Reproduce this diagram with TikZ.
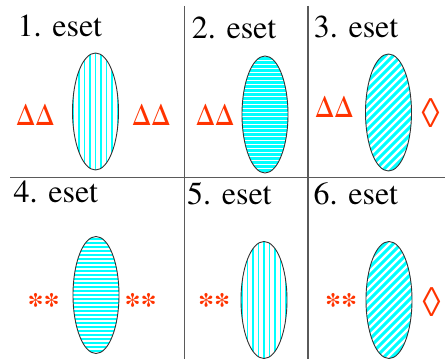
\documentclass[tikz,border=0pt]{standalone}
\usepackage{fontspec}
\setmainfont{TeX Gyre Termes}
\newfontfamily\timesf{TeX Gyre Termes}
\usetikzlibrary{shapes.geometric}
\definecolor{markred}{RGB}{255,51,0}
\definecolor{gridgray}{RGB}{90,90,90}
\definecolor{hatch}{RGB}{0,255,255}
\tikzset{
  lens/.style={ellipse, draw=black!80, line width=0.9pt, fill=white,
    minimum width=46pt, minimum height=117pt, inner sep=0pt},
  vstripes/.style={path picture={
    \foreach \i in {-27.5,-22,...,28}
      \draw[hatch, line width=1.2pt]
        ([xshift=\i pt]path picture bounding box.north) --
        ([xshift=\i pt]path picture bounding box.south);}},
  hstripes/.style={path picture={
    \foreach \i in {-60,-56,...,60}
      \draw[hatch, line width=2.2pt]
        ([yshift=\i pt]path picture bounding box.west) --
        ([yshift=\i pt]path picture bounding box.east);}},
  dstripes/.style={path picture={
    \foreach \i in {-100,-92,...,100}
      \draw[hatch, line width=3.1pt]
        ([xshift=\i pt]path picture bounding box.center) ++(-70pt,-70pt) -- ++(140pt,140pt);}},
  title/.style={anchor=base west, inner sep=0pt, font=\timesf\fontsize{32}{32}\selectfont},
  delta/.style={anchor=base west, inner sep=0pt, text=markred, font=\timesf\fontsize{29}{29}\selectfont},
  stars/.style={anchor=base west, inner sep=0pt, text=markred, font=\timesf\bfseries\fontsize{32}{32}\selectfont},
  loz/.style={anchor=base west, inner sep=0pt, text=markred, font=\timesf\fontsize{39}{39}\selectfont},
  gridline/.style={draw=gridgray, line width=1.3pt}
}
\begin{document}
\begin{tikzpicture}[x=1pt,y=1pt]
\useasboundingbox (0,0) rectangle (445,359);
% grid
\coordinate (v1t) at (184.5,353);
\coordinate (v1b) at (184.5,0);
\coordinate (v2t) at (308,353);
\coordinate (v2b) at (308,0);
\coordinate (hl) at (10,181.5);
\coordinate (hr) at (445,181.5);
\draw[gridline] (v1t) -- (v1b);
\draw[gridline] (v2t) -- (v2b);
\draw[gridline] (hl) -- (hr);
% titles
\node[title] (t1) at (17.5,322) {1. eset};
\node[title] (t2) at (191.7,320) {2. eset};
\node[title] (t3) at (313.7,321) {3. eset};
\node[title] (t4) at (13.5,156) {4. eset};
\node[title] (t5) at (187,154) {5. eset};
\node[title] (t6) at (313.5,154) {6. eset};
% lenses
\node[lens, vstripes] (e1) at (95.5,247.5) {};
\node[lens, hstripes] (e2) at (265,244.5) {};
\node[lens, dstripes] (e3) at (388.5,246.5) {};
\node[lens, hstripes] (e4) at (96,64) {};
\node[lens, vstripes] (e5) at (264,59) {};
\node[lens, dstripes] (e6) at (389,59) {};
% marks
\node[delta] (d1l) at (16,233) {ΔΔ};
\node[delta] (d1r) at (132,233) {ΔΔ};
\node[delta] (d2l) at (195.7,233) {ΔΔ};
\node[delta] (d3l) at (315,241) {ΔΔ};
\node[loz] (z3) at (421.5,231) {◊};
\node[stars] (s4l) at (27.5,43) {**};
\node[stars] (s4r) at (124.5,43) {**};
\node[stars] (s5l) at (198,43) {**};
\node[stars] (s6l) at (325,43) {**};
\node[loz] (z6) at (422.5,42.3) {◊};
\end{tikzpicture}
\end{document}
